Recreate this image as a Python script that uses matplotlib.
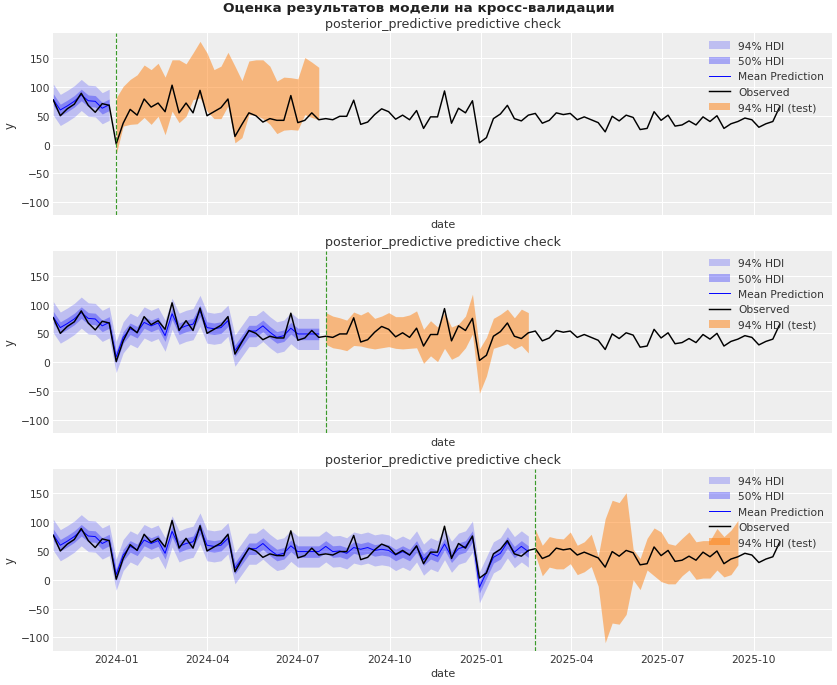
import matplotlib
matplotlib.use("Agg")
import matplotlib.pyplot as plt
import matplotlib.dates as mdates
import pandas as pd
import numpy as np

# weekly observations
dates = pd.date_range("2023-10-30", periods=105, freq="7D")
observed = [77, 50, 62, 70, 89, 68, 56, 71, 68, 1,
            37, 61, 51, 79, 65, 72, 57, 103, 55, 72,
            55, 94, 50, 57, 64, 79, 14, 35, 55, 50,
            39, 45, 42, 42, 85, 38, 42, 55, 43, 45,
            43, 49, 49, 77, 35, 39, 52, 62, 57, 44,
            51, 43, 59, 28, 48, 48, 93, 37, 63, 55,
            76, 3, 12, 45, 53, 68, 45, 41, 51, 54,
            37, 42, 55, 52, 54, 43, 48, 43, 38, 22,
            49, 41, 51, 47, 26, 28, 57, 42, 51, 32,
            34, 41, 34, 48, 40, 50, 28, 36, 40, 46,
            43, 30, 36, 40, 66]

# in-sample mean prediction
fit_mean = [78, 60, 67, 75, 86, 76, 75, 63, 69, 9,
            43, 58, 52, 69, 63, 68, 46, 84, 58, 63,
            66, 89, 60, 58, 60, 72, 20, 37, 54, 54,
            63, 52, 43, 46, 59, 49, 49, 49, 49, 58,
            49, 50, 46, 56, 53, 56, 51, 53, 51, 43,
            49, 43, 58, 35, 46, 41, 62, 40, 54, 58,
            75, -13, 13, 39, 46, 65, 48, 58, 49]
hdi94_half = 27
hdi50_half = 10

# cross-validation folds: first test index and 94% HDI of test predictions
fold_start = [9, 39, 69]
test_lower = [
    [-17, 32, 35, 36, 47, 35, 49, 17, 58, 38, 49, 78, 81, 58, 45,
     45, 67, 3, 12, 52, 51, 45, 35, 19, 25, 26, 25, 52, 47, 43],
    [31, 25, 23, 20, 29, 28, 25, 23, 25, 27, 24, 23, 24, 25, -2,
     11, 1, 24, 5, 11, 25, 49, -54, -24, 24, 28, 32, 23, 29, 16],
    [43, 7, 22, 19, 19, 28, 9, 14, 23, -11, -109, -75, -77, -60, 0,
     -17, 17, 7, -3, -7, -7, 7, 17, 1, 3, 3, 17, 5, 9, 26],
]
test_upper = [
    [81, 101, 113, 121, 138, 130, 141, 117, 147, 147, 140, 159, 179, 159, 130,
     136, 160, 136, 111, 145, 147, 147, 136, 110, 117, 116, 114, 151, 143, 134],
    [86, 80, 77, 73, 87, 82, 88, 76, 80, 86, 79, 79, 82, 89, 57,
     72, 61, 86, 61, 66, 80, 118, 23, 43, 76, 83, 92, 77, 92, 86],
    [87, 60, 75, 72, 71, 83, 60, 66, 79, 41, 106, 138, 134, 151, 53,
     37, 72, 90, 83, 63, 60, 72, 83, 66, 68, 68, 89, 75, 86, 103],
]


def draw_fold(ax, start, lower, upper):
    d_train = dates[:start]
    mean = np.array(fit_mean[:start])
    ax.fill_between(d_train, mean - hdi94_half, mean + hdi94_half,
                    color="blue", alpha=0.2, lw=0, label="94% HDI")
    ax.fill_between(d_train, mean - hdi50_half, mean + hdi50_half,
                    color="blue", alpha=0.3, lw=0, label="50% HDI")
    ax.plot(d_train, mean, color="blue", lw=1, label="Mean Prediction")
    ax.plot(dates, observed, color="black", lw=1.5, label="Observed")
    d_test = dates[start:start + len(lower)]
    ax.fill_between(d_test, lower, upper, color="C1", alpha=0.5, lw=0,
                    label="94% HDI (test)")
    ax.axvline(dates[start], color="#3a9a2a", ls="--", lw=1.2)
    ax.set_title("posterior_predictive predictive check", fontsize=13, color="#333333")
    ax.set_xlabel("date", fontsize=11.5, color="#333333")
    ax.set_ylabel("y", fontsize=12, color="#333333")
    ax.legend(loc="upper right", frameon=False, fontsize=11,
              labelcolor="#333333", borderaxespad=0.3)


plt.rcParams["font.family"] = ["DejaVu Sans"]
fig, axes = plt.subplots(3, 1, figsize=(12, 9.835), dpi=69.75, sharex=True, sharey=True)
fig.subplots_adjust(left=0.0637, right=0.9937, top=0.95, bottom=0.05, hspace=0.195)

for ax, start, lo, up in zip(axes, fold_start, test_lower, test_upper):
    ax.set_facecolor("#eeeeee")
    ax.grid(True, color="white", lw=1.1)
    ax.set_axisbelow(True)
    for sp in ax.spines.values():
        sp.set_visible(False)
    ax.tick_params(length=0, labelsize=11, colors="#333333", pad=3.5)
    draw_fold(ax, start, lo, up)
    ax.xaxis.set_tick_params(labelbottom=(ax is axes[-1]))

axes[0].set_xlim(pd.Timestamp("2023-10-30"), pd.Timestamp("2025-12-18"))
axes[0].set_ylim(-123, 193)
axes[-1].xaxis.set_major_locator(mdates.MonthLocator(bymonth=[1, 4, 7, 10]))
axes[-1].xaxis.set_major_formatter(mdates.DateFormatter("%Y-%m"))

fig.suptitle("Оценка результатов модели на кросс-валидации", fontsize=14,
             fontweight="bold", color="#222222", y=0.997)
fig.savefig("out.png", dpi=69.75)
